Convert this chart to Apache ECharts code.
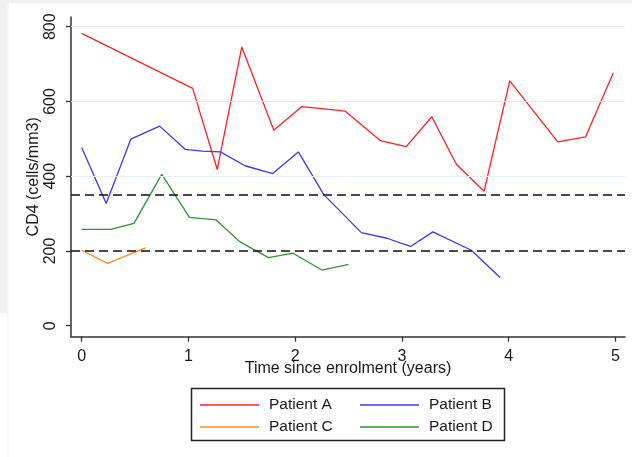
<!DOCTYPE html>
<html><head><meta charset="utf-8">
<script src="https://cdn.jsdelivr.net/npm/echarts@6/dist/echarts.min.js"></script>
<style>html,body{margin:0;padding:0;background:#fff}#c{width:632px;height:457px}</style>
</head><body><div id="c"></div>
<script>
var tA = [0, 1.04, 1.27, 1.50, 1.80, 2.06, 2.25, 2.47, 2.80, 3.04, 3.28, 3.51, 3.77, 4.01, 4.46, 4.72, 4.98];
var vA = [782, 635, 418, 746, 523, 586, 581, 574, 495, 479, 559, 432, 360, 655, 492, 505, 676];
var tB = [0, 0.23, 0.46, 0.73, 0.97, 1.13, 1.30, 1.53, 1.79, 2.03, 2.27, 2.62, 2.86, 3.08, 3.29, 3.65, 3.92];
var vB = [477, 327, 499, 534, 472, 467, 465, 428, 407, 465, 350, 249, 234, 212, 251, 202, 129];
var tC = [0, 0.24, 0.60];
var vC = [202, 167, 208];
var tD = [0, 0.27, 0.49, 0.75, 1.01, 1.26, 1.48, 1.75, 1.98, 2.25, 2.50];
var vD = [258, 258, 274, 405, 290, 283, 225, 182, 194, 149, 164];
var names = ['Patient A', 'Patient B', 'Patient C', 'Patient D'];
var xTicks = [0, 1, 2, 3, 4, 5];
var yTicks = [0, 200, 400, 600, 800];
var gridVals = [400, 600, 800];
var refVals = [200, 350];

function pairs(t, v) { return t.map(function (x, i) { return [x, v[i]]; }); }
var colors = ['#ff2020', '#3838ff', '#ff8a24', '#2e962e'];
var font = 'Liberation Sans, Arial, sans-serif';
var chart = echarts.init(document.getElementById('c'), null, {renderer: 'canvas'});
var lineSeries = [[tA, vA], [tB, vB], [tC, vC], [tD, vD]].map(function (d, i) {
  return {name: names[i], type: 'line', data: pairs(d[0], d[1]), symbol: 'none', z: 3,
    lineStyle: {color: colors[i], width: 1.3}, itemStyle: {color: colors[i]}};
});
var legendCommon = {orient: 'vertical', icon: 'rect', itemWidth: 59, itemHeight: 1.5, itemGap: 6, padding: 0,
  textStyle: {fontFamily: font, fontSize: 15.5, color: '#1a1a1a', padding: [0, 0, 0, 5]}};
chart.setOption({
  animation: false,
  grid: {left: 71, top: 17, right: 7, bottom: 120.3},
  xAxis: {type: 'value', min: -0.1, max: 5.09,
    name: 'Time since enrolment (years)', nameLocation: 'middle', nameGap: 24, nameMoveOverlap: false,
    nameTextStyle: {fontFamily: font, fontSize: 16, color: '#1a1a1a'},
    axisLine: {show: true, onZero: false, lineStyle: {color: '#333', width: 1.5}},
    axisTick: {show: true, length: 5, customValues: xTicks, lineStyle: {color: '#333', width: 1.3}},
    axisLabel: {customValues: xTicks, margin: 12, fontFamily: font, fontSize: 16, color: '#1a1a1a'},
    splitLine: {show: false}},
  yAxis: {type: 'value', min: -29.4, max: 826,
    name: 'CD4 (cells/mm3)', nameLocation: 'middle', nameGap: 29, nameMoveOverlap: false,
    nameTextStyle: {fontFamily: font, fontSize: 16, color: '#1a1a1a'},
    axisLine: {show: true, onZero: false, lineStyle: {color: '#333', width: 1.5}},
    axisTick: {show: true, length: 5, customValues: yTicks, lineStyle: {color: '#333', width: 1.3}},
    axisLabel: {customValues: yTicks, rotate: 90, margin: 12, fontFamily: font, fontSize: 16, color: '#1a1a1a'},
    splitLine: {show: false}},
  legend: [
    Object.assign({data: ['Patient A', 'Patient C'], left: 200, top: 397}, legendCommon),
    Object.assign({data: ['Patient B', 'Patient D'], left: 360, top: 397}, legendCommon)
  ],
  graphic: [
    {type: 'rect', shape: {x: 0, y: 0, width: 632, height: 3}, style: {fill: '#f0f0f0'}, silent: true},
    {type: 'rect', shape: {x: 0, y: 0, width: 7, height: 313}, style: {fill: '#f0f0f0'}, silent: true},
    {type: 'rect', shape: {x: 7.5, y: 0, width: 1, height: 457}, style: {fill: '#e9eef2'}, silent: true},
    {type: 'rect', shape: {x: 191.5, y: 388.5, width: 313, height: 52}, style: {fill: 'none', stroke: '#222', lineWidth: 1.5}, silent: true}
  ],
  series: lineSeries.concat([
    {type: 'line', data: [], silent: true, z: 1,
      markLine: {silent: true, symbol: 'none', label: {show: false},
        lineStyle: {color: '#e6edf3', width: 1.2, type: 'solid'},
        data: gridVals.map(function (v) { return {yAxis: v}; })}},
    {type: 'line', data: [], silent: true, z: 4,
      markLine: {silent: true, symbol: 'none', label: {show: false},
        lineStyle: {color: '#111', width: 1.5, type: [9, 5]},
        data: refVals.map(function (v) { return {yAxis: v}; })}}
  ])
});
</script></body></html>
